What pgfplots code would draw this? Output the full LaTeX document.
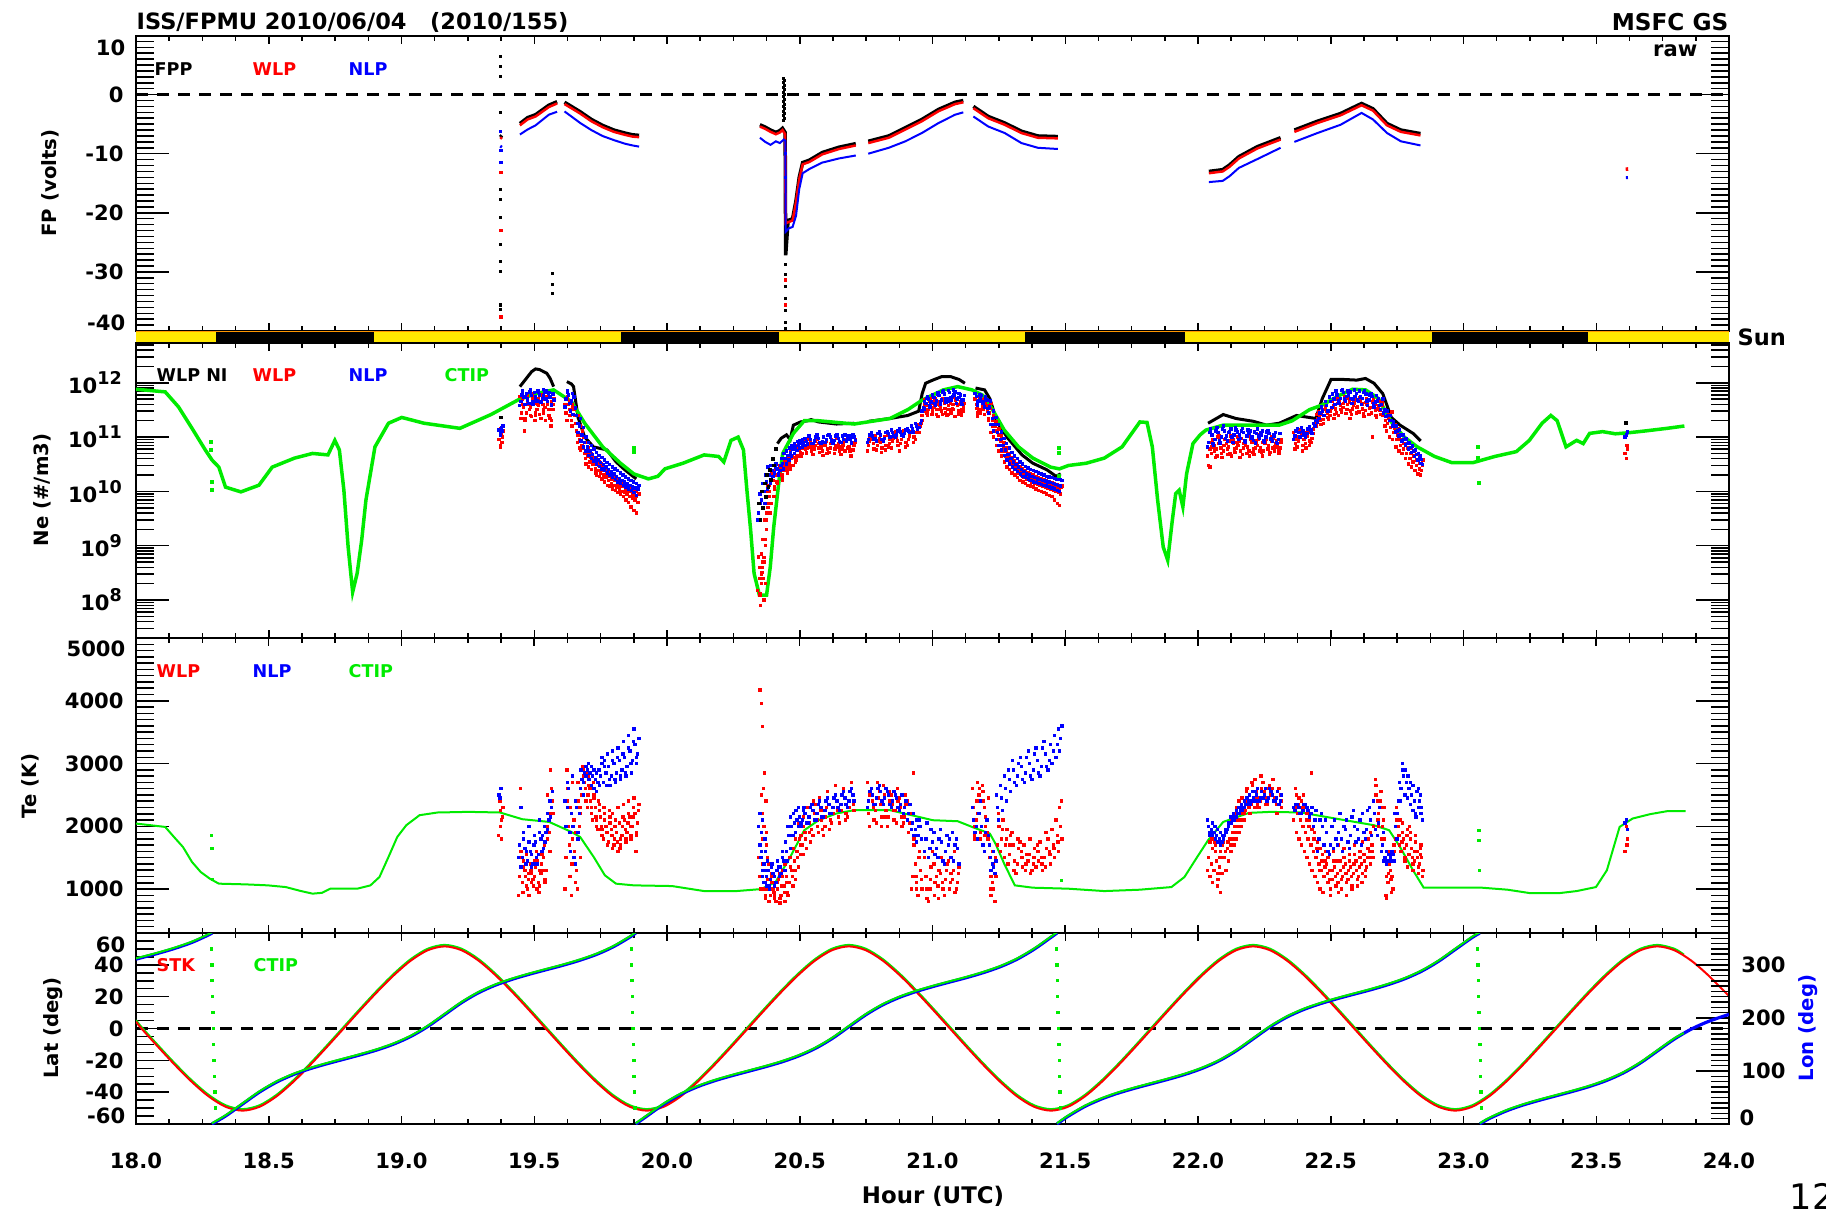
\documentclass[border=0pt]{standalone}
\usepackage{fontspec}
\setmainfont{DejaVu Sans}
\usepackage{pgfplots}
\usepackage{pgfplotstable}
\pgfplotsset{compat=1.18}
\definecolor{cred}{RGB}{255,0,0}
\definecolor{cblue}{RGB}{0,0,255}
\definecolor{cgreen}{RGB}{0,235,0}
\definecolor{sunyellow}{RGB}{255,232,0}
\definecolor{sunorange}{RGB}{255,150,0}
\newcommand\tf{\fontsize{6}{7}\selectfont\bfseries}
\newcommand\lf{\fontsize{5}{6}\selectfont\bfseries}
\newcommand\af{\fontsize{5.6}{6.5}\selectfont\bfseries}

\pgfplotsset{
  panel/.style={
    scale only axis, width=15.93cm, xmin=18, xmax=24,
    xtick={18,18.5,...,24}, minor xtick={18,18.125,...,24},
    xticklabels={},
    tick align=inside, xtick pos=both,
    major tick length=3.3mm, minor tick length=1.8mm,
    xtick style={/pgfplots/major tick length=0.8mm,/pgfplots/minor tick length=0.5mm, line width=0.15mm, black},
    ytick style={line width=0.15mm, black},
    axis line style={line width=0.2mm},
    yticklabel style={font=\tf},
    xticklabel style={font=\tf, yshift=-1.6mm},
    unbounded coords=jump,
  },
  dots/.style={only marks, mark=square*, mark size=0.1mm, mark options={draw=none}},
}

% ---------------- Ne clouds ----------------
\pgfplotstableread{
x a b c d
19.372 7e10 1.1e11 9e10 1.4e11
19.378 8e10 1.3e11 6.5e10 1e11
19.450 2.2e11 4e11 5.6e11 2.8e11
19.460 3.5e11 2e11 5e11 1.3e11
19.470 2.8e11 4.5e11 2.2e11 6e11
19.480 4e11 2.5e11 5.2e11 3.2e11
19.490 2.4e11 4.8e11 3.5e11 6.3e11
19.500 4.2e11 2.8e11 5.6e11 2e11
19.510 3.2e11 5e11 2.5e11 4e11
19.520 2.6e11 6e11 3.8e11 4.5e11
19.530 5e11 3.2e11 2.2e11 4e11
19.540 3.5e11 5.6e11 2.8e11 2e11
19.550 4e11 2.5e11 5.2e11 3.2e11
19.560 2.2e11 4.5e11 3.2e11 1.6e11
19.570 3.2e11 5e11 2e11 4e11
19.620 2.8e11 5e11 4e11 2e11
19.630 4e11 2.5e11 5.6e11 3.2e11
19.640 2e11 3.5e11 4.5e11 1.6e11
19.650 3.2e11 1.8e11 4e11 2.5e11
19.660 1.3e11 2.5e11 1.8e11 8e10
19.670 9e10 1.6e11 1.1e11 6.3e10
19.680 7e10 1e11 5.6e10 1.3e11
19.690 5e10 8e10 6.3e10 4e10
19.700 4.5e10 6.3e10 3.2e10 5.2e10
19.710 3.5e10 5e10 2.8e10 4.2e10
19.720 3.2e10 4.2e10 2.5e10 3.8e10
19.730 2.6e10 4e10 3.2e10 2.2e10
19.740 2.4e10 3.5e10 2e10 3e10
19.750 2.2e10 2.8e10 1.9e10 3.3e10
19.760 2e10 2.6e10 1.7e10 2.4e10
19.770 1.8e10 2.5e10 1.5e10 2.1e10
19.780 1.6e10 2.2e10 1.3e10 1.9e10
19.790 1.4e10 2e10 1.26e10 1.7e10
19.800 1.3e10 1.8e10 1.1e10 1.6e10
19.810 1.2e10 1.7e10 1.05e10 1.4e10
19.820 1.1e10 1.6e10 9.5e9 1.3e10
19.830 1e10 1.4e10 9e9 1.26e10
19.840 9.5e9 1.3e10 8e9 1.1e10
19.850 9e9 1.26e10 7e9 1.05e10
19.860 8e9 1.1e10 6.3e9 1e10
19.870 7.6e9 1.05e10 5.2e9 9e9
19.880 7e9 1e10 4.5e9 8.3e9
19.890 6.3e9 9e9 4e9 1.1e10
20.345 6e8 2.5e8 1.5e8 4e8
20.350 1.2e8 3e8 6.3e8 8e7
20.355 2e8 5e8 1.3e8 3.2e8
20.360 4e8 1e8 7e8 2.5e8
20.365 6e8 2e8 1.3e9 3e9
20.370 1e9 4e9 5e8 8e9
20.375 2e9 6e9 1.3e9 1e10
20.380 5e9 1.3e10 3e9 8e9
20.385 8e9 2e10 1.2e10 4e9
20.390 1.4e10 2.2e10 1e10 6e9
20.400 1.6e10 1.1e10 2e10 8e9
20.410 2.5e10 1.5e10 1.2e10 2e10
20.420 2e10 2.8e10 1.4e10 2.2e10
20.430 2.5e10 1.6e10 3e10 2e10
20.440 2.4e10 3.2e10 1.8e10 2.8e10
20.450 3e10 2.2e10 3.8e10 2.6e10
20.460 3.5e10 2.6e10 4.5e10 3e10
20.470 4e10 3e10 5.6e10 4.5e10
20.480 5e10 3.5e10 6.3e10 4.2e10
20.490 4.5e10 6.3e10 3.8e10 7e10
20.500 6e10 4.5e10 7.6e10 5.2e10
20.510 5e10 8e10 4.5e10 6.3e10
20.520 7e10 5e10 8.5e10 6e10
20.530 6.3e10 9e10 5.2e10 7.6e10
20.540 8e10 5.5e10 9.5e10 6.6e10
20.555 6e10 8.5e10 4.8e10 7e10
20.570 7.6e10 5.2e10 9e10 6.3e10
20.585 5.5e10 8e10 6.6e10 4.6e10
20.600 8.5e10 6e10 7.2e10 5e10
20.615 6.3e10 9e10 5.2e10 7.6e10
20.630 5e10 7e10 8.5e10 6e10
20.645 7.6e10 5.5e10 9.5e10 6.6e10
20.660 6e10 8e10 4.8e10 7e10
20.675 8.5e10 6.3e10 5.5e10 9e10
20.690 5.5e10 7.6e10 6.6e10 4.5e10
20.705 7e10 9e10 5.8e10 8e10
20.760 7e10 1e11 5.5e10 8.5e10
20.775 9e10 6e10 1.1e11 7.6e10
20.790 5.8e10 8.5e10 1.05e11 7e10
20.805 8e10 6.3e10 9.5e10 5.2e10
20.820 1e11 7e10 8.5e10 5.8e10
20.835 6.6e10 9e10 1.1e11 7.6e10
20.850 8.5e10 1.2e11 6.3e10 9.5e10
20.865 1e11 7e10 1.26e11 8.5e10
20.880 7.6e10 1.1e11 5.5e10 9e10
20.895 1.15e11 8e10 1.3e11 6.6e10
20.910 9e10 1.26e11 7e10 1.05e11
20.925 1.4e11 1e11 1.6e11 8e10
20.940 1.2e11 1.7e11 9e10 1.45e11
20.955 1.6e11 2e11 1.2e11 1.8e11
20.965 3e11 4e11 2.5e11 3.5e11
20.975 3.8e11 2.8e11 4.8e11 3.2e11
20.985 3.2e11 4.5e11 2.5e11 5.2e11
20.995 4.2e11 3e11 5e11 2.6e11
21.005 3.5e11 4.8e11 2.8e11 4e11
21.015 2.6e11 4e11 5.2e11 3.2e11
21.025 4.5e11 3.2e11 2.4e11 3.8e11
21.035 3e11 5e11 3.6e11 2.6e11
21.045 4.2e11 2.8e11 4.8e11 3.4e11
21.055 2.5e11 3.8e11 5.2e11 3.2e11
21.065 4.8e11 3.2e11 2.6e11 4.2e11
21.075 3.4e11 5.5e11 2.8e11 4e11
21.085 2.4e11 4.2e11 3.2e11 4.8e11
21.095 3.8e11 2.6e11 5e11 3e11
21.105 4.5e11 3.2e11 4e11 2.8e11
21.115 3e11 4.2e11 2.5e11 3.6e11
21.165 4e11 2.8e11 5e11 3.4e11
21.175 3.2e11 4.5e11 2.4e11 5.2e11
21.185 4.8e11 3.6e11 2.8e11 4.2e11
21.195 2.6e11 4e11 3.2e11 5e11
21.205 3.8e11 2.2e11 4.5e11 3e11
21.215 2.8e11 4.2e11 2e11 3.4e11
21.225 1.6e11 2.5e11 1.2e11 2e11
21.235 1.3e11 1.9e11 1e11 1.6e11
21.245 9e10 1.4e11 7e10 1.1e11
21.255 7e10 1.05e11 5.5e10 8.5e10
21.265 5.5e10 8e10 4.5e10 6.6e10
21.275 4.5e10 6.3e10 3.5e10 5.5e10
21.285 3.8e10 5e10 2.8e10 4.5e10
21.295 3.2e10 4.2e10 2.5e10 3.6e10
21.305 2.8e10 3.6e10 2.2e10 3.2e10
21.315 2.5e10 3.2e10 2e10 2.8e10
21.325 2.2e10 2.8e10 1.8e10 2.5e10
21.335 2e10 2.6e10 1.6e10 2.3e10
21.345 1.8e10 2.4e10 1.5e10 2.1e10
21.355 1.7e10 2.2e10 1.4e10 2e10
21.365 1.6e10 2.1e10 1.3e10 1.8e10
21.375 1.5e10 2e10 1.25e10 1.7e10
21.385 1.4e10 1.9e10 1.2e10 1.6e10
21.395 1.35e10 1.8e10 1.1e10 1.55e10
21.405 1.3e10 1.7e10 1.05e10 1.5e10
21.415 1.25e10 1.65e10 1e10 1.45e10
21.425 1.2e10 1.6e10 9.5e9 1.4e10
21.435 1.15e10 1.5e10 9e9 1.3e10
21.445 1.1e10 1.45e10 8.5e9 1.25e10
21.455 1.05e10 1.4e10 8e9 1.2e10
21.465 1e10 1.35e10 7e9 1.15e10
21.475 9.5e9 1.3e10 6e9 1.1e10
21.483 9e9 1.25e10 5.5e9 1.2e10
22.040 3e10 6e10 4.5e10 8e10
22.050 5e10 8.5e10 2.8e10 6.6e10
22.060 7e10 4.2e10 9e10 5.5e10
22.072 4.5e10 7.6e10 6e10 1e11
22.084 8e10 5e10 1.05e11 6.3e10
22.096 5.5e10 9e10 4.2e10 7e10
22.108 7.6e10 4.8e10 9.5e10 6e10
22.120 5e10 8.5e10 6.6e10 1.05e11
22.132 9e10 6e10 4.5e10 7.6e10
22.144 6.3e10 1e11 5.2e10 8e10
22.156 8.5e10 5.5e10 7e10 4.2e10
22.168 4.8e10 7.6e10 9.5e10 6.3e10
22.180 7e10 5e10 8.5e10 1.05e11
22.192 5.5e10 9e10 6.6e10 4.5e10
22.204 8e10 6e10 1e11 5.2e10
22.216 6.3e10 8.5e10 4.8e10 7.6e10
22.228 9e10 5.5e10 7e10 1.1e11
22.240 5.2e10 8e10 6.3e10 4.5e10
22.252 7.6e10 1e11 5.5e10 8.5e10
22.264 6e10 4.8e10 9e10 7e10
22.276 8.5e10 6.3e10 5.2e10 1e11
22.288 5.5e10 7.6e10 9.5e10 6.6e10
22.300 7e10 5e10 8.5e10 6e10
22.310 6.3e10 9e10 5.5e10 8e10
22.365 6e10 9e10 1.2e11 7.6e10
22.378 8.5e10 1.3e11 6.6e10 1e11
22.391 1.1e11 7e10 1.35e11 5.5e10
22.404 7.6e10 1.2e11 9e10 6.3e10
22.417 1.25e11 8.5e10 1.05e11 7e10
22.430 9.5e10 1.4e11 8e10 1.15e11
22.445 1.6e11 2.2e11 1.8e11 2.6e11
22.458 2.4e11 1.7e11 2.9e11 2e11
22.471 2.1e11 3.2e11 2.6e11 1.8e11
22.484 3e11 2.3e11 3.6e11 2.7e11
22.497 2.5e11 3.4e11 2.1e11 3e11
22.510 3.8e11 2.6e11 4.5e11 2.2e11
22.522 2.8e11 4.2e11 3.3e11 5e11
22.534 4.6e11 3.2e11 2.5e11 3.9e11
22.546 3.5e11 5.5e11 2.9e11 4.2e11
22.558 2.7e11 4e11 4.8e11 3.2e11
22.570 4.4e11 3e11 5.2e11 2.2e11
22.582 3.3e11 4.8e11 2.6e11 3.8e11
22.594 5e11 3.5e11 4.2e11 2.8e11
22.606 2.9e11 4.5e11 3.6e11 5.4e11
22.618 4.1e11 2.7e11 4.9e11 3.3e11
22.630 3.1e11 5.1e11 2.4e11 4.3e11
22.642 4.7e11 3.4e11 4e11 2.6e11
22.654 2.8e11 4.4e11 3.5e11 1e11
22.666 4e11 2.5e11 4.8e11 3.1e11
22.678 3.3e11 4.5e11 2.3e11 3.8e11
22.690 2.6e11 3.9e11 3.1e11 4.4e11
22.702 3e11 2e11 2.5e11 1.6e11
22.714 1.8e11 2.6e11 1.3e11 2.2e11
22.726 1.5e11 2.9e11 1e11 2e11
22.738 1.2e11 1.7e11 9e10 1.45e11
22.750 9e10 1.4e11 6.6e10 1.1e11
22.762 7e10 1.1e11 5.5e10 9e10
22.774 6e10 9e10 5e10 7.6e10
22.786 5e10 7.6e10 4e10 6.3e10
22.798 4e10 6.3e10 3.2e10 5e10
22.810 3.5e10 5.5e10 2.8e10 4.5e10
22.822 3e10 4.8e10 2.4e10 3.8e10
22.834 2.6e10 4.2e10 2.1e10 3.3e10
22.842 2.4e10 3.8e10 2e10 3e10
23.613 4e10 6e10 5e10 7e10
}\neR

\pgfplotstableread{
x a b c
19.372 1.2e11 1.5e11 1.35e11
19.378 1.3e11 1.6e11 1.1e11
19.450 4.5e11 6e11 3.8e11
19.460 5.5e11 4e11 7e11
19.470 6.3e11 4.8e11 5.5e11
19.480 4.2e11 6.8e11 5e11
19.490 5.8e11 4.5e11 7.4e11
19.500 6.6e11 5e11 4e11
19.510 4.6e11 7e11 5.6e11
19.520 6e11 4.3e11 6.8e11
19.530 5.2e11 7.6e11 4.4e11
19.540 6.8e11 5e11 5.8e11
19.550 4.5e11 6.3e11 7.2e11
19.560 5.5e11 4e11 6.6e11
19.570 6.2e11 4.8e11 3.8e11
19.620 5e11 6.8e11 3.6e11
19.630 6e11 4.2e11 7e11
19.640 4.6e11 6.3e11 3e11
19.650 5.5e11 3.4e11 2.6e11
19.660 2.5e11 1.8e11 3.5e11
19.670 1.6e11 2.2e11 1.2e11
19.680 1.1e11 1.5e11 8.5e10
19.690 8e10 1e11 6.6e10
19.700 6.6e10 8e10 5.5e10
19.710 5.5e10 7e10 4.6e10
19.720 4.8e10 6e10 4e10
19.730 4.2e10 5.2e10 3.6e10
19.740 3.8e10 4.6e10 3.2e10
19.750 3.4e10 4.2e10 2.9e10
19.760 3.1e10 3.8e10 2.6e10
19.770 2.8e10 3.4e10 2.4e10
19.780 2.5e10 3.1e10 2.2e10
19.790 2.3e10 2.8e10 2e10
19.800 2.1e10 2.6e10 1.8e10
19.810 1.9e10 2.4e10 1.65e10
19.820 1.75e10 2.2e10 1.5e10
19.830 1.6e10 2e10 1.4e10
19.840 1.5e10 1.85e10 1.3e10
19.850 1.4e10 1.7e10 1.2e10
19.860 1.3e10 1.6e10 1.1e10
19.870 1.2e10 1.5e10 1.05e10
19.880 1.15e10 1.4e10 9.5e9
19.890 1.1e10 1.3e10 8.5e9
20.345 4e9 6e9 3e9
20.355 7e9 5e9 9e9
20.365 1e10 6e9 1.4e10
20.375 1.5e10 1.1e10 2e10
20.385 2e10 1.4e10 2.8e10
20.395 2.4e10 1.9e10 3e10
20.405 2.2e10 2.8e10 1.9e10
20.415 2.6e10 2.1e10 3.2e10
20.425 2.4e10 3e10 2e10
20.435 3.3e10 2.6e10 4e10
20.445 4e10 3.2e10 5e10
20.455 4.6e10 3.8e10 5.5e10
20.465 5.2e10 4.5e10 6.3e10
20.475 6e10 5e10 7e10
20.485 6.6e10 5.6e10 7.6e10
20.495 7.2e10 6.3e10 8.3e10
20.505 7.6e10 6.6e10 8.7e10
20.515 8e10 7e10 9e10
20.525 8.3e10 7.4e10 9.5e10
20.540 9e10 7.6e10 1.05e11
20.555 8.5e10 1e11 7.6e10
20.570 9.5e10 8e10 1.1e11
20.585 8.3e10 1e11 7.8e10
20.600 9e10 1.08e11 8e10
20.615 1e11 8.5e10 1.1e11
20.630 8.7e10 1.05e11 7.8e10
20.645 9.5e10 8.2e10 1.1e11
20.660 1.05e11 9e10 8e10
20.675 8.5e10 1e11 1.1e11
20.690 9.2e10 7.8e10 1.05e11
20.705 1e11 8.7e10 1.1e11
20.760 9e10 1.1e11 8e10
20.775 1.05e11 9e10 1.2e11
20.790 8.5e10 1.15e11 9.5e10
20.805 1.1e11 9e10 1.25e11
20.820 9.5e10 1.2e11 8.5e10
20.835 1.15e11 1e11 1.25e11
20.850 1.2e11 1.05e11 1.35e11
20.865 1.1e11 1.3e11 1e11
20.880 1.25e11 1.1e11 1.4e11
20.895 1.15e11 1.35e11 1.05e11
20.910 1.3e11 1.2e11 1.45e11
20.925 1.4e11 1.25e11 1.6e11
20.940 1.6e11 1.4e11 1.8e11
20.955 1.8e11 2e11 1.5e11
20.965 3.5e11 4.5e11 3e11
20.975 4.2e11 5.2e11 3.3e11
20.985 5e11 3.8e11 5.6e11
20.995 4.4e11 5.8e11 3.6e11
21.005 5.4e11 4.2e11 6e11
21.015 4.6e11 6.2e11 3.8e11
21.025 5.8e11 4.4e11 6.6e11
21.035 4.8e11 6.8e11 4e11
21.045 6.2e11 5e11 7e11
21.055 5.2e11 7.2e11 4.4e11
21.065 6.6e11 5.4e11 4.6e11
21.075 5.6e11 7.4e11 4.8e11
21.085 6.8e11 5.2e11 6e11
21.095 5e11 6.4e11 4.2e11
21.105 6e11 4.6e11 5.4e11
21.115 4.8e11 5.8e11 4e11
21.165 5.6e11 4.4e11 6.4e11
21.175 4.6e11 6e11 3.8e11
21.185 5.8e11 4.2e11 5e11
21.195 3.6e11 5.2e11 4.4e11
21.205 4.8e11 3.4e11 5.6e11
21.215 3.6e11 4.6e11 2.8e11
21.225 2.2e11 3e11 1.7e11
21.235 1.7e11 2.3e11 1.3e11
21.245 1.2e11 1.7e11 9e10
21.255 9e10 1.25e11 7e10
21.265 7e10 9.5e10 5.8e10
21.275 5.8e10 7.6e10 4.6e10
21.285 4.8e10 6.3e10 3.8e10
21.295 4e10 5.2e10 3.2e10
21.305 3.5e10 4.5e10 2.8e10
21.315 3.1e10 4e10 2.5e10
21.325 2.8e10 3.5e10 2.3e10
21.335 2.5e10 3.2e10 2.1e10
21.345 2.3e10 2.9e10 1.9e10
21.355 2.1e10 2.7e10 1.8e10
21.365 2e10 2.5e10 1.7e10
21.375 1.9e10 2.4e10 1.6e10
21.385 1.8e10 2.3e10 1.5e10
21.395 1.7e10 2.2e10 1.45e10
21.405 1.65e10 2.1e10 1.4e10
21.415 1.6e10 2e10 1.35e10
21.425 1.55e10 1.9e10 1.3e10
21.435 1.5e10 1.85e10 1.25e10
21.445 1.45e10 1.8e10 1.2e10
21.455 1.4e10 1.75e10 1.15e10
21.465 1.35e10 1.7e10 1.1e10
21.475 1.3e10 1.65e10 1.05e10
21.483 1.25e10 1.6e10 1e10
22.040 8e10 1.2e11 6.6e10
22.052 1.1e11 7.6e10 1.4e11
22.064 9e10 1.3e11 7e10
22.076 1.2e11 8.5e10 1.5e11
22.088 1e11 1.4e11 7.8e10
22.100 1.3e11 9.5e10 1.6e11
22.112 8.5e10 1.2e11 1.05e11
22.124 1.4e11 1e11 1.25e11
22.136 1.1e11 1.5e11 8e10
22.148 1.25e11 9e10 1.35e11
22.160 9.5e10 1.3e11 1.1e11
22.172 1.2e11 8.5e10 1.45e11
22.184 1.05e11 1.35e11 8e10
22.196 1.3e11 9.5e10 1.15e11
22.208 8.7e10 1.25e11 1e11
22.220 1.15e11 1.4e11 7.8e10
22.232 9.5e10 1.2e11 1.05e11
22.244 1.3e11 8.5e10 1.1e11
22.256 1e11 1.25e11 8e10
22.268 1.15e11 9e10 1.3e11
22.280 8.5e10 1.1e11 9.5e10
22.292 1.2e11 8e10 1.05e11
22.304 9e10 1.15e11 7.6e10
22.365 1.05e11 1.3e11 9e10
22.380 1.2e11 1e11 1.45e11
22.395 1.3e11 1.1e11 1.5e11
22.410 1.15e11 1.4e11 1e11
22.425 1.35e11 1.15e11 1.55e11
22.440 1.6e11 2e11 1.8e11
22.455 2.2e11 2.8e11 1.9e11
22.470 3e11 2.5e11 3.6e11
22.485 3.8e11 3e11 4.5e11
22.500 4.5e11 3.5e11 5.5e11
22.512 5e11 4e11 6.2e11
22.524 6e11 4.6e11 7e11
22.536 5.2e11 7.2e11 4.2e11
22.548 6.6e11 5e11 7.6e11
22.560 5.6e11 7e11 4.6e11
22.572 6.8e11 5.2e11 6e11
22.584 5e11 7.4e11 4.2e11
22.596 6.4e11 4.8e11 5.6e11
22.608 7e11 5.5e11 4.5e11
22.620 5.2e11 6.6e11 4e11
22.632 6.2e11 4.6e11 7e11
22.644 4.8e11 6e11 3.8e11
22.656 5.6e11 4.2e11 6.4e11
22.668 4.4e11 5.8e11 3.6e11
22.680 5.2e11 3.8e11 4.6e11
22.692 4e11 5e11 3.2e11
22.704 3.2e11 2.4e11 2.8e11
22.716 2.5e11 2e11 3e11
22.728 2e11 1.6e11 2.5e11
22.740 1.6e11 1.25e11 1.9e11
22.752 1.3e11 1.05e11 1.6e11
22.764 1.1e11 8.5e10 1.35e11
22.776 9e10 7.2e10 1.1e11
22.788 7.6e10 6e10 9.2e10
22.800 6.4e10 5.2e10 7.8e10
22.812 5.5e10 4.4e10 6.8e10
22.824 4.8e10 3.8e10 5.8e10
22.836 4.2e10 3.3e10 5e10
22.842 3.9e10 3.1e10 4.6e10
23.613 1.1e11 1.25e11 1e11
}\neB

% ---------------- Te clouds ----------------
\pgfplotstableread{
x a b c d
19.371 2400 2100 1850 2250
19.377 1800 2300 2000 2150
19.445 1200 1500 900 2600
19.455 1100 1350 1600 950
19.465 1300 1050 1450 1200
19.475 1000 1250 1550 1150
19.485 1400 1100 900 1300
19.495 1150 1450 1250 1050
19.505 1350 1000 1200 1600
19.515 1100 1300 1450 950
19.525 1250 1550 1050 1400
19.535 1500 1150 1300 1700
19.545 1300 1800 1100 2000
19.555 2200 1600 2500 1900
19.565 2600 2200 2900 2400
19.620 1500 2400 1000 2900
19.630 2000 1200 2600 1700
19.640 900 1800 2300 1400
19.650 2100 1100 2700 1600
19.660 1300 2400 1900 1000
19.670 2000 1500 2700 2300
19.680 2500 2800 2200 2950
19.690 2700 2400 2900 2600
19.700 2300 2650 2850 2500
19.710 2600 2200 2800 2400
19.720 2100 2500 2300 2700
19.730 2300 2000 2450 2150
19.740 1950 2250 2100 2400
19.750 2150 1850 2350 2000
19.760 1800 2100 1950 2300
19.770 2000 1700 2200 1900
19.780 1750 2050 1900 2250
19.790 1950 1650 2150 1850
19.800 1700 2000 2200 1800
19.810 1900 1600 2100 1750
19.820 2050 1800 2300 1650
19.830 1850 2150 1700 2000
19.840 2100 1800 2350 1950
19.850 1900 2200 1750 2050
19.860 2150 1850 2400 2000
19.870 2000 2300 1800 2150
19.880 2200 1900 2450 1600
19.890 2050 2350 1850 2250
20.350 4170 2500 1500 1000
20.355 3960 1800 1200 2200
20.360 3590 1100 1600 2600
20.365 2000 900 1400 2850
20.370 1300 1700 1000 2400
20.375 1900 1150 850 1500
20.380 1000 1400 1200 800
20.390 900 1100 800 1250
20.400 1000 850 1200 950
20.410 800 1100 900 1300
20.420 1150 850 1000 1250
20.430 900 1200 780 1050
20.440 1050 800 1300 950
20.450 1200 950 1400 1100
20.460 1100 1350 900 1500
20.470 1300 1050 1500 1200
20.480 1450 1150 1650 1300
20.490 1600 1350 1800 1500
20.500 1800 1550 2050 1700
20.510 1700 2000 1850 1550
20.520 1900 1650 2150 1800
20.535 2050 1750 2300 1900
20.550 1850 2200 1950 2400
20.565 2100 1900 2350 2000
20.580 2250 1950 2450 2100
20.595 2000 2300 1850 2150
20.610 2350 2100 2550 1950
20.625 2200 2450 2050 2300
20.640 2400 2150 2650 2250
20.655 2250 2500 2050 2350
20.670 2450 2200 2600 2100
20.685 2300 2550 2150 2400
20.700 2500 2250 2700 2350
20.760 2200 2500 2700 2000
20.775 2400 2100 2600 2300
20.790 2050 2450 2250 2700
20.805 2350 2150 2550 2000
20.820 2500 2250 2650 2150
20.835 2150 2400 2000 2550
20.850 2350 2100 2500 2250
20.865 2050 2400 2250 2600
20.880 2300 2000 2450 2150
20.895 2150 2350 2050 2500
20.910 1900 2200 2400 2050
20.925 1200 1700 1000 2850
20.935 1400 1000 1800 1200
20.945 900 1500 1100 2000
20.955 1300 1000 1600 1150
20.975 1200 850 1500 1000
20.990 1000 1350 800 1150
21.005 1400 1100 1600 900
21.020 1050 1300 1200 850
21.035 1500 1000 1250 1100
21.050 1150 1400 900 1300
21.065 1000 1250 1450 1100
21.080 1300 950 1150 1600
21.095 1100 1350 1000 1250
21.155 2300 2000 2600 1850
21.165 2100 2700 1800 2400
21.175 2500 1900 2200 2600
21.185 2000 2400 1800 2650
21.195 2300 2000 2550 1850
21.205 1900 2450 2150 1800
21.215 1500 1200 1800 1000
21.225 1100 1400 900 1600
21.235 800 1200 1000 1500
21.245 1700 2000 1450 2200
21.260 1800 2100 1600 1950
21.275 1700 1950 1500 1800
21.290 1550 1850 1400 1700
21.305 1700 1450 1900 1300
21.320 1400 1650 1250 1800
21.335 1600 1350 1750 1500
21.350 1300 1550 1700 1400
21.365 1550 1250 1450 1800
21.380 1400 1650 1300 1500
21.395 1700 1450 1350 1600
21.410 1500 1300 1750 1400
21.425 1350 1650 1500 1900
21.440 1600 1400 1800 1550
21.455 1700 1500 1950 1650
21.470 1850 1600 2100 1750
21.483 2000 1800 2300 2400
22.040 1500 1750 1300 1900
22.050 1400 1650 1200 1800
22.060 1300 1600 1100 1750
22.070 1450 1250 1700 1050
22.080 1350 1600 1150 1500
22.090 1250 1500 950 1700
22.100 1500 1300 1750 1600
22.110 1650 1450 1900 1750
22.120 1800 1600 2000 1700
22.130 1900 1700 2100 1800
22.140 2000 1800 2200 1900
22.150 2100 1900 2300 2000
22.160 2200 2000 2400 2100
22.170 2300 2100 2450 2200
22.180 2250 2400 2100 2550
22.190 2400 2200 2600 2300
22.200 2350 2550 2200 2700
22.210 2450 2300 2650 2550
22.220 2550 2350 2750 2450
22.235 2400 2600 2300 2800
22.250 2550 2350 2700 2450
22.265 2450 2650 2350 2600
22.280 2600 2400 2500 2750
22.295 2350 2550 2450 2200
22.310 2500 2300 2600 2400
22.365 2300 2500 2100 2600
22.375 2200 2450 1900 2350
22.385 2100 2400 1800 2300
22.395 2000 2300 1700 2500
22.405 1900 2200 1600 2100
22.415 1800 2100 1500 2000
22.425 1700 1950 1400 2850
22.435 1600 1900 1300 1800
22.445 1500 1750 1200 1650
22.455 1400 1650 1100 1300
22.465 1300 1550 1000 1450
22.475 1200 1450 950 1350
22.485 1400 1100 1600 1250
22.495 1300 1000 1500 1150
22.505 1150 1450 900 1300
22.515 1350 1050 1600 1200
22.525 1250 950 1450 1100
22.535 1450 1150 1700 1300
22.545 1200 1500 1000 1350
22.555 1400 1100 1650 1250
22.565 1150 1450 900 1300
22.575 1350 1050 1550 1200
22.585 1250 1550 1000 1400
22.595 1450 1150 1700 1300
22.605 1200 1500 1050 1350
22.615 1400 1250 1600 1100
22.625 1550 1300 1750 1450
22.635 1350 1650 1200 1500
22.645 1600 1400 1800 1500
22.655 1700 1500 1900 1600
22.665 2200 2500 2000 2750
22.675 2400 2200 2650 2100
22.685 2300 2550 2000 2400
22.695 2000 2300 1800 2100
22.705 1500 1200 1800 900
22.715 1100 1400 850 1250
22.725 1300 950 1600 1150
22.735 1000 1450 1200 1700
22.745 1800 2100 1600 2300
22.755 2000 1700 2200 1850
22.765 1600 1900 2100 1750
22.775 1800 1500 2050 1650
22.785 1700 1950 1450 1850
22.795 1550 1800 1350 2000
22.805 1650 1400 1900 1500
22.815 1450 1750 1300 1600
22.825 1600 1350 1850 1500
22.835 1400 1700 1250 1550
22.842 1500 1300 1650 1200
23.613 2000 1800 1600 1700
}\teR

\pgfplotstableread{
x a b c
19.371 2450 2600 2500
19.445 1700 2300 1500
19.455 1500 1800 1350
19.465 1650 1400 1900
19.475 1450 1750 1600
19.485 1600 1350 2000
19.495 1400 1700 1550
19.505 1750 1500 1850
19.515 1550 1900 1400
19.525 1800 1600 2100
19.535 1650 2000 1850
19.545 1900 2200 1750
19.555 2100 2400 1950
19.565 2300 2550 2150
19.620 2000 2700 2400
19.630 2600 1900 2300
19.640 2200 2800 1600
19.650 1500 2400 2000
19.660 2300 1900 1400
19.670 2200 2600 1800
19.680 2750 2500 2900
19.690 2850 2950 2700
19.700 2900 3000 2800
19.710 2850 2950 2750
19.720 2800 2900 2650
19.730 2750 2850 2600
19.740 2700 2900 2550
19.750 2800 3000 2650
19.760 2700 2950 3100
19.770 2850 2650 3050
19.780 2950 2750 3150
19.790 2800 3050 2650
19.800 3000 2750 3200
19.810 2850 3100 2700
19.820 3050 2800 3250
19.830 2900 3150 2750
19.840 3100 2850 3350
19.850 2950 3250 2800
19.860 3200 3000 3450
19.870 3050 3350 2850
19.880 3300 3100 3550
19.890 3150 3400 3000
20.350 2200 1500 2000
20.355 1900 1300 1700
20.360 2100 1100 1600
20.365 1400 1800 1200
20.370 1600 1050 1300
20.375 1200 1450 1100
20.380 1300 1050 1200
20.390 1150 1350 1000
20.400 1250 1050 1400
20.410 1100 1300 1200
20.420 1350 1200 1450
20.430 1250 1500 1350
20.440 1450 1300 1600
20.450 1600 1450 1750
20.460 1850 1650 2000
20.470 2000 1850 2150
20.480 2050 1900 2200
20.490 2100 2000 2250
20.500 2150 2050 2300
20.510 2100 2250 2000
20.520 2200 2050 2300
20.535 2150 2300 2050
20.550 2250 2100 2350
20.565 2200 2350 2100
20.580 2300 2150 2400
20.595 2250 2400 2150
20.610 2350 2200 2450
20.625 2300 2450 2200
20.640 2400 2300 2500
20.655 2350 2500 2250
20.670 2450 2350 2550
20.685 2400 2550 2300
20.700 2500 2400 2600
20.760 2400 2550 2300
20.775 2500 2350 2600
20.790 2450 2600 2350
20.805 2550 2400 2650
20.820 2450 2600 2350
20.835 2500 2350 2550
20.850 2400 2550 2300
20.865 2450 2300 2500
20.880 2350 2500 2250
20.895 2300 2400 2200
20.910 2200 2350 2100
20.925 2050 2200 1950
20.935 1950 2100 1850
20.945 1850 2000 1750
20.955 2000 1800 2100
20.975 1800 2050 1600
20.990 1650 1950 1500
21.005 1900 1550 1750
21.020 1500 1800 1650
21.035 1750 1450 1950
21.050 1600 1850 1400
21.065 1800 1500 1700
21.080 1450 1700 1900
21.095 1650 1400 1800
21.155 2100 1900 2300
21.170 1800 2200 2000
21.185 2000 1700 2400
21.200 1900 2100 1600
21.215 1700 1500 1850
21.225 1400 1600 1300
21.235 1250 1450 1350
21.245 2300 2100 2500
21.260 2450 2250 2650
21.275 2600 2400 2800
21.290 2750 2550 2900
21.305 2900 2700 3050
21.320 2800 3000 2650
21.335 2950 2750 3100
21.350 2850 3100 2700
21.365 3000 2800 3200
21.380 2900 3150 2750
21.395 3050 2850 3250
21.410 2950 3250 2800
21.425 3150 2950 3350
21.440 3050 3300 2900
21.455 3200 3450 3000
21.470 3300 3550 3100
21.483 3400 3600 3200
22.040 2000 1900 2100
22.050 1950 2050 1850
22.060 1900 2000 1850
22.070 1850 1950 1800
22.080 1800 1900 1750
22.090 1750 1850 1700
22.100 1850 1950 1800
22.110 1950 2050 1900
22.120 2050 2150 2000
22.130 2100 2200 2050
22.140 2150 2250 2100
22.150 2200 2300 2150
22.160 2250 2350 2200
22.170 2300 2400 2250
22.180 2350 2450 2300
22.190 2400 2500 2350
22.200 2400 2550 2350
22.210 2450 2550 2400
22.220 2500 2600 2400
22.235 2450 2550 2400
22.250 2500 2600 2450
22.265 2450 2600 2400
22.280 2500 2400 2550
22.295 2450 2550 2400
22.310 2400 2500 2350
22.365 2250 2350 2300
22.380 2300 2200 2350
22.395 2250 2350 2200
22.410 2300 2250 2350
22.425 2200 2300 2150
22.440 2100 2250 2000
22.455 1800 2100 1600
22.470 2000 1700 2200
22.485 1900 1600 2100
22.500 1700 2000 1550
22.515 2100 1800 1650
22.530 1900 2200 1700
22.545 1600 2000 1800
22.560 2100 1750 1950
22.575 1850 2150 1650
22.590 2000 1750 2250
22.605 1800 2100 1950
22.620 2200 1900 1700
22.635 1950 2250 1800
22.650 2100 1850 2300
22.665 2200 1950 2400
22.680 2050 2300 1850
22.695 1700 1900 1600
22.705 1500 1600 1450
22.715 1450 1550 1400
22.725 1500 1450 1550
22.735 1550 1450 1600
22.745 2000 1800 2200
22.755 2400 2700 2200
22.765 2600 2900 2400
22.775 2800 2500 3000
22.785 2700 2450 2900
22.795 2600 2350 2800
22.805 2500 2250 2700
22.815 2400 2200 2650
22.825 2550 2300 2150
22.835 2400 2200 2600
22.842 2300 2100 2500
23.613 2100 1950 2050
}\teB

\begin{document}
\begin{tikzpicture}
\path[use as bounding box] (0,0) rectangle (18.26,12.11);

% ================= Panel 1: FP =================
\begin{axis}[panel, at={(1.36cm,8.80cm)}, anchor=south west, height=2.955cm,
  ymin=-40, ymax=10, ytick={-40,-30,-20,-10,0,10}, yticklabels={,-30,-20,-10,0,},
  minor ytick={-39,-38,...,9}, ytick pos=both]
\addplot[black, line width=0.3mm, dash pattern=on 1.2mm off 0.9mm] coordinates {(18,0)(24,0)};
\addplot[black, line width=0.35mm] coordinates {
(19.372,-7.2)(19.378,-6.9)(19.38,nan)
(19.446,-4.9)(19.475,-3.9)(19.505,-3.4)(19.530,-2.6)(19.555,-1.8)(19.586,-1.2)(19.60,nan)
(19.614,-1.3)(19.640,-2.0)(19.673,-2.9)(19.715,-4.2)(19.757,-5.2)(19.800,-6.0)(19.841,-6.5)(19.870,-6.8)(19.895,-6.9)(19.9,nan)
(20.350,-5.1)(20.370,-5.5)(20.390,-6.0)(20.410,-6.4)(20.425,-6.1)(20.435,-5.7)(20.445,-6.4)(20.447,-27.2)
(20.456,-21.3)(20.473,-21.0)(20.486,-17.9)(20.498,-14.0)(20.511,-11.5)(20.536,-11.1)(20.585,-9.8)(20.648,-8.9)(20.711,-8.3)(20.73,nan)
(20.758,-7.9)(20.835,-7.0)(20.898,-5.6)(20.960,-4.2)(21.023,-2.5)(21.085,-1.3)(21.116,-1.0)(21.13,nan)
(21.154,-2.0)(21.210,-3.7)(21.272,-4.8)(21.335,-6.2)(21.397,-7.0)(21.472,-7.1)(21.5,nan)
(22.041,-13.0)(22.093,-12.7)(22.119,-11.9)(22.154,-10.5)(22.224,-8.8)(22.311,-7.3)(22.33,nan)
(22.363,-6.0)(22.450,-4.5)(22.537,-3.2)(22.616,-1.5)(22.659,-2.4)(22.712,-4.9)(22.764,-6.0)(22.838,-6.6)};
\addplot[black, dots, mark size=0.08mm] coordinates {
(19.374,6.4)(19.374,4.7)(19.374,3.0)(19.374,-3.0)(19.374,-16)(19.374,-17.7)(19.374,-20.8)(19.374,-25.3)(19.374,-28.3)(19.374,-30)(19.374,-35.6)(19.374,-36.4)
(19.569,-30.3)(19.569,-32.2)(19.569,-33.6)
(20.438,2.8)(20.438,2.0)(20.438,1.2)(20.438,0.4)(20.438,-0.4)(20.438,-1.2)(20.438,-2.0)(20.438,-2.8)(20.438,-3.6)(20.438,-4.4)
(20.442,2.4)(20.442,1.6)(20.442,0.8)(20.442,0)(20.442,-0.8)(20.442,-1.6)(20.442,-2.4)(20.442,-3.2)(20.442,-4.0)
(20.447,-28.8)(20.447,-30.5)(20.447,-32.5)(20.447,-34.5)(20.447,-36.5)(20.447,-38.5)(20.447,-39.6)};
\addplot[cred, line width=0.25mm] coordinates {
(19.372,-7.5)(19.378,-7.2)(19.38,nan)
(19.446,-5.2)(19.475,-4.2)(19.505,-3.7)(19.530,-2.9)(19.555,-2.1)(19.586,-1.5)(19.60,nan)
(19.614,-1.6)(19.640,-2.3)(19.673,-3.2)(19.715,-4.5)(19.757,-5.5)(19.800,-6.3)(19.841,-6.8)(19.870,-7.1)(19.895,-7.2)(19.9,nan)
(20.350,-5.4)(20.370,-5.8)(20.390,-6.3)(20.410,-6.7)(20.425,-6.4)(20.435,-6.0)(20.445,-6.7)(20.447,-21.8)
(20.456,-21.6)(20.473,-21.3)(20.486,-18.2)(20.498,-14.3)(20.511,-11.8)(20.536,-11.4)(20.585,-10.1)(20.648,-9.2)(20.711,-8.6)(20.73,nan)
(20.758,-8.2)(20.835,-7.3)(20.898,-5.9)(20.960,-4.5)(21.023,-2.8)(21.085,-1.6)(21.116,-1.3)(21.13,nan)
(21.154,-2.3)(21.210,-4.0)(21.272,-5.1)(21.335,-6.5)(21.397,-7.3)(21.472,-7.4)(21.5,nan)
(22.041,-13.3)(22.093,-13.0)(22.119,-12.2)(22.154,-10.8)(22.224,-9.1)(22.311,-7.6)(22.33,nan)
(22.363,-6.3)(22.450,-4.8)(22.537,-3.5)(22.616,-1.8)(22.659,-2.7)(22.712,-5.2)(22.764,-6.3)(22.838,-6.9)(22.85,nan)
(23.615,-12.3)(23.616,-12.9)};
\addplot[cred, dots] coordinates {(19.374,-13.2)(19.374,-23.0)(19.374,-37.6)(20.447,-31.4)(20.447,-35.6)};
\addplot[cblue, line width=0.2mm] coordinates {
(19.372,-9.0)(19.378,-8.6)(19.38,nan)
(19.446,-6.75)(19.475,-5.9)(19.505,-5.2)(19.530,-4.3)(19.555,-3.4)(19.586,-2.9)(19.60,nan)
(19.614,-2.85)(19.640,-3.7)(19.673,-4.8)(19.715,-6.0)(19.757,-7.0)(19.800,-7.7)(19.841,-8.3)(19.870,-8.6)(19.895,-8.8)(19.9,nan)
(20.350,-7.3)(20.370,-8.0)(20.390,-8.5)(20.410,-7.9)(20.425,-8.2)(20.440,-7.6)(20.446,-7.8)(20.447,-23.2)
(20.460,-22.6)(20.473,-22.4)(20.486,-20.5)(20.498,-16.0)(20.511,-13.3)(20.536,-12.6)(20.585,-11.5)(20.648,-10.8)(20.711,-10.3)(20.73,nan)
(20.758,-10.0)(20.835,-9.0)(20.898,-7.9)(20.960,-6.5)(21.023,-4.8)(21.085,-3.4)(21.116,-3.0)(21.13,nan)
(21.154,-3.7)(21.210,-5.4)(21.272,-6.5)(21.335,-8.2)(21.397,-9.0)(21.472,-9.2)(21.5,nan)
(22.041,-14.8)(22.093,-14.6)(22.119,-13.8)(22.154,-12.4)(22.224,-10.9)(22.311,-9.0)(22.33,nan)
(22.363,-8.0)(22.450,-6.5)(22.537,-5.1)(22.616,-3.1)(22.659,-4.2)(22.712,-6.5)(22.764,-7.9)(22.838,-8.6)(22.85,nan)
(23.615,-13.8)(23.616,-14.3)};
\addplot[cblue, dots] coordinates {(19.372,-6.2)(19.374,-9.5)(19.374,-11.5)(20.447,-10)(20.447,-14)};
\end{axis}

% ================= Sun bar =================
\begin{axis}[scale only axis, width=15.93cm, height=0.12cm, at={(1.36cm,8.68cm)}, anchor=south west,
  xmin=18, xmax=24, ymin=0, ymax=1, hide axis]
\addplot[fill=black, draw=none] coordinates {(18,1)(24,1)} \closedcycle;
\addplot[fill=sunyellow, draw=none] coordinates {(18,0.95)(18.30,0.95)} \closedcycle;
\addplot[fill=sunyellow, draw=none] coordinates {(18.895,0.95)(19.825,0.95)} \closedcycle;
\addplot[fill=sunyellow, draw=none] coordinates {(20.42,0.95)(21.35,0.95)} \closedcycle;
\addplot[fill=sunyellow, draw=none] coordinates {(21.95,0.95)(22.88,0.95)} \closedcycle;
\addplot[fill=sunyellow, draw=none] coordinates {(23.47,0.95)(24,0.95)} \closedcycle;
\addplot[sunorange, line width=0.15mm] coordinates {(18,1)(18.30,1)(18.30,nan)(18.895,1)(19.825,1)(19.83,nan)(20.42,1)(21.35,1)(21.36,nan)(21.95,1)(22.88,1)(22.89,nan)(23.47,1)(24,1)};
\end{axis}

% ================= Panel 2: Ne =================
\begin{axis}[panel, at={(1.36cm,5.73cm)}, anchor=south west, height=2.95cm,
  ymode=log, ymin=2e7, ymax=5.4e12,
  ytick={1e8,1e9,1e10,1e11,1e12},
  yticklabels={10\textsuperscript{8},10\textsuperscript{9},10\textsuperscript{10},10\textsuperscript{11},10\textsuperscript{12}},
  minor ytick={3e7,4e7,5e7,6e7,7e7,8e7,9e7,2e8,3e8,4e8,5e8,6e8,7e8,8e8,9e8,2e9,3e9,4e9,5e9,6e9,7e9,8e9,9e9,2e10,3e10,4e10,5e10,6e10,7e10,8e10,9e10,2e11,3e11,4e11,5e11,6e11,7e11,8e11,9e11,2e12,3e12,4e12,5e12},
  ytick pos=both]
\addplot[cred, dots] table[x=x, y=a]{\neR};
\addplot[cred, dots, xshift=0.13mm] table[x=x, y=b]{\neR};
\addplot[cred, dots, xshift=-0.13mm] table[x=x, y=c]{\neR};
\addplot[cred, dots, xshift=0.07mm] table[x=x, y=d]{\neR};
\addplot[cblue, dots] table[x=x, y=a]{\neB};
\addplot[cblue, dots, xshift=0.12mm] table[x=x, y=b]{\neB};
\addplot[cblue, dots, xshift=-0.12mm] table[x=x, y=c]{\neB};
\addplot[black, line width=0.3mm] coordinates {
(19.446,8.5e11)(19.47,1.2e12)(19.49,1.6e12)(19.505,1.8e12)(19.52,1.75e12)(19.547,1.5e12)(19.56,1.2e12)(19.573,8.5e11)(19.6,nan)
(19.623,1.05e12)(19.64,9.5e11)(19.648,8.5e11)(19.665,2.3e11)(19.690,1e11)(19.723,6.6e10)(19.774,5.8e10)(19.808,3.5e10)(19.841,2.5e10)(19.884,1.7e10)(19.9,nan)
(20.416,7.6e10)(20.430,9.5e10)(20.450,1.1e11)(20.464,9e10)(20.476,1.66e11)(20.503,1.9e11)(20.530,2e11)(20.543,2.1e11)(20.571,1.9e11)(20.638,1.74e11)(20.705,1.8e11)(20.73,nan)
(20.759,1.95e11)(20.840,2.2e11)(20.907,2.5e11)(20.948,3e11)(20.961,6.3e11)(20.974,9.8e11)(21.001,1.12e12)(21.035,1.3e12)(21.068,1.3e12)(21.10,1.15e12)(21.122,9.8e11)(21.14,nan)
(21.162,8e11)(21.196,7.4e11)(21.216,5.1e11)(21.243,1.9e11)(21.284,9.5e10)(21.337,4.7e10)(21.378,3.3e10)(21.431,2.5e10)(21.465,1.9e10)(21.483,2.1e10)(21.5,nan)
(22.038,1.8e11)(22.095,2.6e11)(22.143,2.2e11)(22.209,1.95e11)(22.258,1.66e11)(22.306,1.8e11)(22.371,2.5e11)(22.444,2.2e11)(22.468,5.1e11)(22.501,1.15e12)(22.550,1.15e12)(22.598,1.12e12)(22.631,1.2e12)(22.663,9.8e11)(22.696,6.3e11)(22.728,2.3e11)(22.761,1.66e11)(22.810,1.17e11)(22.839,8.5e10)};
\addplot[black, dots, mark size=0.12mm] coordinates {
(19.374,2.3e11)(23.613,1.8e11)
(20.348,6e9)(20.352,3e9)(20.358,1e10)(20.362,5e9)(20.368,1.4e10)(20.372,8e9)(20.378,2e10)(20.382,1.2e10)(20.388,2.5e10)(20.392,1.6e10)(20.398,4e10)(20.404,3e10)(20.41,6e10)};
\addplot[cgreen, line width=0.35mm] coordinates {
(18.000,7.6e11)(18.110,6.8e11)(18.160,3.6e11)(18.211,1.45e11)(18.261,5.8e10)(18.286,3.8e10)(18.312,2.8e10)(18.337,1.2e10)(18.395,9.8e9)(18.463,1.3e10)(18.513,2.8e10)(18.597,4.1e10)(18.665,5e10)(18.723,4.7e10)(18.749,8.7e10)(18.766,5.8e10)(18.783,1.05e10)(18.799,9.5e8)(18.816,1.4e8)(18.833,3.1e8)(18.850,1.26e9)(18.866,6.9e9)(18.900,6.6e10)(18.951,1.8e11)(19.001,2.3e11)(19.085,1.8e11)(19.220,1.45e11)(19.337,2.6e11)(19.438,4.8e11)(19.505,6.3e11)(19.573,7.4e11)(19.640,4.5e11)(19.690,1.8e11)(19.758,6.6e10)(19.825,3.3e10)(19.875,2.1e10)(19.930,1.7e10)(19.966,1.9e10)(19.992,2.6e10)(20.060,3.3e10)(20.140,4.7e10)(20.194,4.4e10)(20.214,3.5e10)(20.241,8.7e10)(20.268,1e11)(20.288,5.8e10)(20.301,1.05e10)(20.315,1.95e9)(20.328,3.1e8)(20.348,1.23e8)(20.375,1.23e8)(20.389,4.1e8)(20.402,2.2e9)(20.422,1.6e10)(20.436,5e10)(20.476,1.17e11)(20.517,2e11)(20.571,2e11)(20.705,1.74e11)(20.840,2.2e11)(20.907,3.2e11)(20.961,4.8e11)(21.041,7.4e11)(21.095,8.5e11)(21.149,7.4e11)(21.189,5.9e11)(21.223,3.4e11)(21.270,1.35e11)(21.324,6.6e10)(21.378,4.1e10)(21.445,2.8e10)(21.478,2.6e10)(21.512,3e10)(21.579,3.3e10)(21.647,4.1e10)(21.714,6.6e10)(21.781,1.9e11)(21.808,1.86e11)(21.828,6.6e10)(21.848,6.9e9)(21.869,9.5e8)(21.886,5.4e8)(21.902,2.6e9)(21.916,9.1e9)(21.929,1.05e10)(21.943,5.2e9)(21.957,2.1e10)(21.981,7.6e10)(22.008,1.1e11)(22.030,1.35e11)(22.095,1.66e11)(22.225,1.66e11)(22.306,1.66e11)(22.355,2e11)(22.420,3.2e11)(22.468,3.9e11)(22.534,5.9e11)(22.582,7.6e11)(22.631,7.4e11)(22.680,5.1e11)(22.728,1.9e11)(22.777,1e11)(22.826,6.6e10)(22.891,4.4e10)(22.955,3.4e10)(23.037,3.4e10)(23.118,4.4e10)(23.199,5.4e10)(23.248,8.7e10)(23.296,1.8e11)(23.329,2.5e11)(23.353,2e11)(23.386,6.6e10)(23.426,8.7e10)(23.451,7.6e10)(23.475,1.17e11)(23.524,1.26e11)(23.572,1.15e11)(23.621,1.2e11)(23.686,1.3e11)(23.767,1.45e11)(23.832,1.6e11)};
\addplot[cgreen, dots, mark size=0.13mm] coordinates {(18.284,8e10)(18.284,5.8e10)(18.286,1.5e10)(18.286,1.05e10)(19.876,6.2e10)(19.876,5.4e10)(21.478,6.3e10)(21.478,5e10)(21.478,1.9e10)(23.055,6.6e10)(23.055,4.1e10)(23.057,1.4e10)};
\end{axis}

% ================= Panel 3: Te =================
\begin{axis}[panel, at={(1.36cm,2.78cm)}, anchor=south west, height=2.95cm,
  ymin=300, ymax=5000, ytick={1000,2000,3000,4000,5000}, yticklabels={1000,2000,3000,4000,},
  minor ytick={400,500,...,4900}, ytick pos=both]
\addplot[cred, dots] table[x=x, y=a]{\teR};
\addplot[cred, dots, xshift=0.13mm] table[x=x, y=b]{\teR};
\addplot[cred, dots, xshift=-0.13mm] table[x=x, y=c]{\teR};
\addplot[cred, dots, xshift=0.07mm] table[x=x, y=d]{\teR};
\addplot[cblue, dots] table[x=x, y=a]{\teB};
\addplot[cblue, dots, xshift=0.12mm] table[x=x, y=b]{\teB};
\addplot[cblue, dots, xshift=-0.12mm] table[x=x, y=c]{\teB};
\addplot[cgreen, line width=0.2mm] coordinates {
(18.000,2044)(18.110,1990)(18.143,1830)(18.177,1670)(18.211,1431)(18.244,1271)(18.278,1166)(18.312,1086)(18.412,1075)(18.497,1059)(18.564,1032)(18.620,970)(18.665,927)(18.700,940)(18.732,1006)(18.833,1006)(18.883,1059)(18.917,1192)(18.951,1511)(18.984,1830)(19.018,2017)(19.068,2177)(19.136,2220)(19.253,2230)(19.371,2220)(19.455,2113)(19.556,2070)(19.640,1910)(19.673,1830)(19.724,1511)(19.766,1219)(19.808,1086)(19.875,1059)(20.019,1048)(20.140,968)(20.261,968)(20.355,1000)(20.409,1112)(20.464,1511)(20.517,1937)(20.571,2097)(20.638,2204)(20.705,2257)(20.840,2257)(20.921,2177)(21.001,2097)(21.095,2081)(21.149,1990)(21.216,1884)(21.237,1725)(21.270,1405)(21.310,1059)(21.378,1022)(21.512,1006)(21.647,968)(21.781,990)(21.900,1032)(21.949,1192)(21.997,1511)(22.038,1778)(22.095,2070)(22.192,2214)(22.274,2230)(22.387,2220)(22.517,2124)(22.663,2017)(22.720,1937)(22.761,1671)(22.810,1299)(22.850,1022)(22.955,1022)(23.069,1022)(23.166,990)(23.248,937)(23.362,936)(23.426,968)(23.499,1032)(23.540,1299)(23.588,1990)(23.637,2124)(23.702,2193)(23.767,2241)(23.837,2241)};
\addplot[cgreen, dots, mark size=0.1mm] coordinates {(18.284,1858)(18.286,1645)(18.288,1150)(21.485,1139)(23.058,1937)(23.058,1778)(23.060,1299)};
\end{axis}

% ================= Panel 4: Lat / Lon =================
\begin{axis}[panel, at={(1.36cm,0.87cm)}, anchor=south west, height=1.91cm,
  ymin=-60, ymax=60, ytick={-60,-40,-20,0,20,40,60}, yticklabels={,-40,-20,0,20,40,},
  minor ytick={-55,-50,...,55}, ytick pos=left,
  xticklabels={18.0,18.5,19.0,19.5,20.0,20.5,21.0,21.5,22.0,22.5,23.0,23.5,24.0}, xticklabel pos=lower]
\addplot[black, line width=0.3mm, dash pattern=on 1.2mm off 0.9mm] coordinates {(18,0)(24,0)};
\addplot[cgreen, line width=0.2mm, smooth, yshift=0.15mm] coordinates {
(18.0,4.3)(18.0207,0)(18.0841,-11.7)(18.1476,-23.07)(18.2110,-33.65)(18.2745,-42.74)(18.3379,-49.2)(18.4013,-51.6)(18.4648,-49.2)(18.5282,-42.74)(18.5917,-33.65)(18.6551,-23.07)(18.7185,-11.7)(18.7820,0)(18.8454,11.7)(18.9089,23.07)(18.9723,33.65)(19.0357,42.74)(19.0992,49.2)(19.1626,51.6)(19.2261,49.2)(19.2895,42.74)(19.3529,33.65)(19.4164,23.07)(19.4798,11.7)(19.5432,0)(19.6067,-11.7)(19.6701,-23.07)(19.7336,-33.65)(19.7970,-42.74)(19.8604,-49.2)(19.9239,-51.6)(19.9873,-49.2)(20.0508,-42.74)(20.1142,-33.65)(20.1776,-23.07)(20.2411,-11.7)(20.3045,0)(20.3679,11.7)(20.4314,23.07)(20.4948,33.65)(20.5583,42.74)(20.6217,49.2)(20.6851,51.6)(20.7486,49.2)(20.8120,42.74)(20.8755,33.65)(20.9389,23.07)(21.0023,11.7)(21.0658,0)(21.1292,-11.7)(21.1926,-23.07)(21.2561,-33.65)(21.3195,-42.74)(21.3830,-49.2)(21.4464,-51.6)(21.5098,-49.2)(21.5733,-42.74)(21.6367,-33.65)(21.7002,-23.07)(21.7636,-11.7)(21.8270,0)(21.8905,11.7)(21.9539,23.07)(22.0173,33.65)(22.0808,42.74)(22.1442,49.2)(22.2077,51.6)(22.2711,49.2)(22.3345,42.74)(22.3980,33.65)(22.4614,23.07)(22.5249,11.7)(22.5883,0)(22.6517,-11.7)(22.7152,-23.07)(22.7786,-33.65)(22.8420,-42.74)(22.9055,-49.2)(22.9689,-51.6)(23.0324,-49.2)(23.0958,-42.74)(23.1592,-33.65)(23.2227,-23.07)(23.2861,-11.7)(23.3496,0)(23.4130,11.7)(23.4764,23.07)(23.5399,33.65)(23.6033,42.74)(23.6668,49.2)(23.7302,51.6)(23.7936,49.2)(23.83,45.5)};
\addplot[cred, line width=0.2mm, smooth] coordinates {
(18.0,4.3)(18.0207,0)(18.0841,-11.7)(18.1476,-23.07)(18.2110,-33.65)(18.2745,-42.74)(18.3379,-49.2)(18.4013,-51.6)(18.4648,-49.2)(18.5282,-42.74)(18.5917,-33.65)(18.6551,-23.07)(18.7185,-11.7)(18.7820,0)(18.8454,11.7)(18.9089,23.07)(18.9723,33.65)(19.0357,42.74)(19.0992,49.2)(19.1626,51.6)(19.2261,49.2)(19.2895,42.74)(19.3529,33.65)(19.4164,23.07)(19.4798,11.7)(19.5432,0)(19.6067,-11.7)(19.6701,-23.07)(19.7336,-33.65)(19.7970,-42.74)(19.8604,-49.2)(19.9239,-51.6)(19.9873,-49.2)(20.0508,-42.74)(20.1142,-33.65)(20.1776,-23.07)(20.2411,-11.7)(20.3045,0)(20.3679,11.7)(20.4314,23.07)(20.4948,33.65)(20.5583,42.74)(20.6217,49.2)(20.6851,51.6)(20.7486,49.2)(20.8120,42.74)(20.8755,33.65)(20.9389,23.07)(21.0023,11.7)(21.0658,0)(21.1292,-11.7)(21.1926,-23.07)(21.2561,-33.65)(21.3195,-42.74)(21.3830,-49.2)(21.4464,-51.6)(21.5098,-49.2)(21.5733,-42.74)(21.6367,-33.65)(21.7002,-23.07)(21.7636,-11.7)(21.8270,0)(21.8905,11.7)(21.9539,23.07)(22.0173,33.65)(22.0808,42.74)(22.1442,49.2)(22.2077,51.6)(22.2711,49.2)(22.3345,42.74)(22.3980,33.65)(22.4614,23.07)(22.5249,11.7)(22.5883,0)(22.6517,-11.7)(22.7152,-23.07)(22.7786,-33.65)(22.8420,-42.74)(22.9055,-49.2)(22.9689,-51.6)(23.0324,-49.2)(23.0958,-42.74)(23.1592,-33.65)(23.2227,-23.07)(23.2861,-11.7)(23.3496,0)(23.4130,11.7)(23.4764,23.07)(23.5399,33.65)(23.6033,42.74)(23.6668,49.2)(23.7302,51.6)(23.7936,49.2)(23.8571,42.74)(23.9205,33.65)(23.9840,23.07)(24.0,20.5)};
\end{axis}

\begin{axis}[scale only axis, width=15.93cm, height=1.91cm, at={(1.36cm,0.87cm)}, anchor=south west,
  xmin=18, xmax=24, ymin=0, ymax=360, hide x axis, axis y line*=right,
  tick align=inside, major tick length=3.3mm, minor tick length=1.8mm,
  ytick style={line width=0.15mm, black}, axis line style={line width=0.2mm},
  ytick={0,100,200,300}, yticklabels={,100,200,300}, minor ytick={10,20,...,350},
  yticklabel style={font=\tf}, unbounded coords=jump]
\addplot[cblue, line width=0.32mm, smooth] coordinates {
(18.0,310.7)(18.0208,313.5)(18.0842,321.9)(18.1476,331.3)(18.2111,342.4)(18.2745,356.7)(18.286,360)(18.2861,nan)
(18.286,0)(18.3379,15.3)(18.4014,37.7)(18.4648,60.1)(18.5283,78.7)(18.5917,93.0)(18.6551,104.2)(18.7186,113.5)(18.782,122)(18.8454,130.5)(18.9089,139.8)(18.9723,151.0)(19.0358,165.3)(19.0992,183.9)(19.1626,206.3)(19.2261,228.7)(19.2895,247.3)(19.353,261.6)(19.4164,272.7)(19.4798,282.1)(19.5433,290.6)(19.6067,299.0)(19.6701,308.4)(19.7336,319.5)(19.797,333.8)(19.8605,352.4)(19.882,360)(19.8821,nan)
(19.882,0)(19.9239,14.8)(19.9873,37.2)(20.0508,55.8)(20.1142,70.1)(20.1776,81.3)(20.2411,90.6)(20.3045,99.1)(20.3679,107.6)(20.4314,116.9)(20.4948,128.1)(20.5583,142.4)(20.6217,161.0)(20.6851,183.4)(20.7486,205.8)(20.812,224.4)(20.8755,238.7)(20.9389,249.8)(21.0023,259.2)(21.0658,267.7)(21.1292,276.1)(21.1926,285.5)(21.2561,296.6)(21.3195,310.9)(21.383,329.5)(21.4464,351.9)(21.469,360)(21.4691,nan)
(21.469,0)(21.5098,14.3)(21.5732,32.9)(21.6367,47.2)(21.7001,58.4)(21.7636,67.7)(21.827,76.2)(21.8904,84.7)(21.9539,94.0)(22.0173,105.2)(22.0808,119.5)(22.1442,138.1)(22.2076,160.5)(22.2711,182.9)(22.3345,201.5)(22.398,215.8)(22.4614,226.9)(22.5248,236.3)(22.5883,244.8)(22.6517,253.2)(22.7151,262.6)(22.7786,273.7)(22.842,288.0)(22.9055,306.6)(22.9689,329.0)(23.0323,351.4)(23.0615,360)(23.0616,nan)
(23.0615,0)(23.0958,10.0)(23.1592,24.3)(23.2226,35.5)(23.2861,44.8)(23.3495,53.3)(23.4129,61.8)(23.4764,71.1)(23.5398,82.3)(23.6033,96.6)(23.6667,115.2)(23.7301,137.6)(23.7936,160.0)(23.857,178.6)(23.9205,192.9)(23.9839,204.0)(24.0,206.4)};
\addplot[cgreen, line width=0.2mm, smooth, yshift=0.08mm] coordinates {
(18.0,310.7)(18.0208,313.5)(18.0842,321.9)(18.1476,331.3)(18.2111,342.4)(18.2745,356.7)(18.286,360)(18.2861,nan)
(18.286,0)(18.3379,15.3)(18.4014,37.7)(18.4648,60.1)(18.5283,78.7)(18.5917,93.0)(18.6551,104.2)(18.7186,113.5)(18.782,122)(18.8454,130.5)(18.9089,139.8)(18.9723,151.0)(19.0358,165.3)(19.0992,183.9)(19.1626,206.3)(19.2261,228.7)(19.2895,247.3)(19.353,261.6)(19.4164,272.7)(19.4798,282.1)(19.5433,290.6)(19.6067,299.0)(19.6701,308.4)(19.7336,319.5)(19.797,333.8)(19.8605,352.4)(19.882,360)(19.8821,nan)
(19.882,0)(19.9239,14.8)(19.9873,37.2)(20.0508,55.8)(20.1142,70.1)(20.1776,81.3)(20.2411,90.6)(20.3045,99.1)(20.3679,107.6)(20.4314,116.9)(20.4948,128.1)(20.5583,142.4)(20.6217,161.0)(20.6851,183.4)(20.7486,205.8)(20.812,224.4)(20.8755,238.7)(20.9389,249.8)(21.0023,259.2)(21.0658,267.7)(21.1292,276.1)(21.1926,285.5)(21.2561,296.6)(21.3195,310.9)(21.383,329.5)(21.4464,351.9)(21.469,360)(21.4691,nan)
(21.469,0)(21.5098,14.3)(21.5732,32.9)(21.6367,47.2)(21.7001,58.4)(21.7636,67.7)(21.827,76.2)(21.8904,84.7)(21.9539,94.0)(22.0173,105.2)(22.0808,119.5)(22.1442,138.1)(22.2076,160.5)(22.2711,182.9)(22.3345,201.5)(22.398,215.8)(22.4614,226.9)(22.5248,236.3)(22.5883,244.8)(22.6517,253.2)(22.7151,262.6)(22.7786,273.7)(22.842,288.0)(22.9055,306.6)(22.9689,329.0)(23.0323,351.4)(23.0615,360)(23.0616,nan)
(23.0615,0)(23.0958,10.0)(23.1592,24.3)(23.2226,35.5)(23.2861,44.8)(23.3495,53.3)(23.4129,61.8)(23.4764,71.1)(23.5398,82.3)(23.6033,96.6)(23.6667,115.2)(23.7301,137.6)(23.7936,160.0)(23.83,170)};
\addplot[cgreen, dots, mark size=0.1mm] coordinates {
(18.284,330)(18.2855,300)(18.287,270)(18.2885,240)(18.290,210)(18.2915,180)(18.293,150)(18.2945,120)(18.296,90)(18.2975,60)(18.299,30)
(19.866,330)(19.867,300)(19.868,270)(19.870,240)(19.871,210)(19.872,180)(19.874,150)(19.875,120)(19.876,90)(19.878,60)(19.879,30)
(21.467,330)(21.4685,300)(21.470,270)(21.4715,240)(21.473,210)(21.4745,180)(21.476,150)(21.4775,120)(21.479,90)(21.4805,60)(21.482,30)
(23.053,330)(23.0545,300)(23.056,270)(23.0575,240)(23.059,210)(23.0605,180)(23.062,150)(23.0635,120)(23.065,90)(23.0665,60)(23.068,30)};
\end{axis}

% ================= Texts =================
\node[anchor=west, inner sep=0pt] at (1.36,11.89) {\fontsize{6.4}{7.5}\selectfont\bfseries ISS/FPMU 2010/06/04\ \ \ (2010/155)};
\node[anchor=east, inner sep=0pt] at (17.29,11.89) {\fontsize{6.6}{7.5}\selectfont\bfseries MSFC GS};
\node[anchor=east, inner sep=0pt] at (16.98,11.60) {\fontsize{6}{7}\selectfont\bfseries raw};
% end tick labels, set inside as in the reference
\node[anchor=east, inner sep=0pt] at (1.26,11.63) {\tf 10};
\node[anchor=east, inner sep=0pt] at (1.26,8.88) {\tf -40};
\node[anchor=east, inner sep=0pt] at (1.26,5.62) {\tf 5000};
\node[anchor=east, inner sep=0pt] at (1.26,2.66) {\tf 60};
\node[anchor=east, inner sep=0pt] at (1.26,0.95) {\tf -60};
\node[anchor=west, inner sep=0pt] at (17.39,0.93) {\tf 0};
% legends
\node[anchor=west, inner sep=0pt] at (1.54,11.42) {\lf FPP};
\node[anchor=west, inner sep=0pt, text=cred] at (2.52,11.42) {\lf WLP};
\node[anchor=west, inner sep=0pt, text=cblue] at (3.48,11.42) {\lf NLP};
\node[anchor=west, inner sep=0pt] at (17.37,8.74) {\fontsize{6.4}{7.5}\selectfont\bfseries Sun};
\node[anchor=west, inner sep=0pt] at (1.56,8.36) {\lf WLP NI};
\node[anchor=west, inner sep=0pt, text=cred] at (2.52,8.36) {\lf WLP};
\node[anchor=west, inner sep=0pt, text=cblue] at (3.48,8.36) {\lf NLP};
\node[anchor=west, inner sep=0pt, text=cgreen] at (4.44,8.36) {\lf CTIP};
\node[anchor=west, inner sep=0pt, text=cred] at (1.56,5.40) {\lf WLP};
\node[anchor=west, inner sep=0pt, text=cblue] at (2.52,5.40) {\lf NLP};
\node[anchor=west, inner sep=0pt, text=cgreen] at (3.48,5.40) {\lf CTIP};
\node[anchor=west, inner sep=0pt, text=cred] at (1.56,2.46) {\lf STK};
\node[anchor=west, inner sep=0pt, text=cgreen] at (2.53,2.46) {\lf CTIP};
% axis titles
\node[rotate=90, inner sep=0pt] at (0.505,10.28) {\af FP (volts)};
\node[rotate=90, inner sep=0pt] at (0.425,7.21) {\af Ne (\#/m3)};
\node[rotate=90, inner sep=0pt] at (0.30,4.25) {\af Te (K)};
\node[rotate=90, inner sep=0pt] at (0.53,1.83) {\af Lat (deg)};
\node[rotate=90, inner sep=0pt, text=cblue] at (18.08,1.83) {\af Lon (deg)};
\node[inner sep=0pt] at (9.33,0.15) {\fontsize{6.5}{7.5}\selectfont\bfseries Hour (UTC)};
\node[anchor=base west, inner sep=0pt] at (17.89,0.02) {\fontsize{10}{12}\selectfont 12};
\end{tikzpicture}
\end{document}
